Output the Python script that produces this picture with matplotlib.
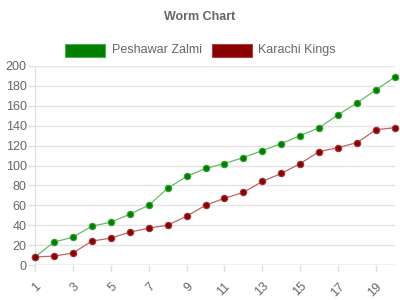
import matplotlib
matplotlib.use("Agg")
import matplotlib.pyplot as plt
from matplotlib.patches import Rectangle

plt.rcParams['font.family'] = ['Liberation Sans', 'DejaVu Sans']

overs = list(range(1, 21))
peshawar = [8, 23, 28, 39, 43, 51, 60, 77, 89, 97, 102, 108, 115, 122, 130, 138, 151, 163, 176, 189]
karachi = [8, 9, 12, 24, 27, 33, 37, 40, 49, 60, 67, 73, 84, 92, 102, 114, 118, 123, 136, 138]
series_names = ["Peshawar Zalmi", "Karachi Kings"]
title = "Worm Chart"

fig = plt.figure(figsize=(4, 3), dpi=100)
ax = fig.add_axes([35/400, 1-265/300, 360/400, 199/300])

ax.plot(overs, peshawar, color='#66bb66', lw=0.9, marker='o', ms=4.6,
        mfc='#008000', mec='#33a033', mew=0.8, zorder=3, clip_on=False)
ax.plot(overs, karachi, color='#bb6666', lw=0.9, marker='o', ms=4.6,
        mfc='#8b0000', mec='#a03333', mew=0.8, zorder=3, clip_on=False)

ax.set_xlim(1, 20)
ax.set_ylim(0, 200)
ax.set_yticks(range(0, 201, 20))
ax.set_xticks(range(1, 20, 2))
ax.set_xticklabels([str(v) for v in range(1, 20, 2)], rotation=45, ha='right',
                   rotation_mode='anchor')
ax.grid(axis='y', color='#e5e5e5', lw=1)
ax.set_axisbelow(True)
for s in ['top', 'right', 'bottom']:
    ax.spines[s].set_visible(False)
ax.spines['left'].set_color('#e0e0e0')
ax.tick_params(axis='y', colors='#666666', labelsize=9, length=5, width=1, pad=1)
ax.tick_params(axis='x', colors='#666666', labelsize=9, length=5, width=1, pad=6)
ax.tick_params(axis='both', color='#e0e0e0')
ax.axhline(0, color='#d5d5d5', lw=1, zorder=1)

fig.text(200/400, 1-17/300, title, ha='center', va='center', fontsize=9,
         fontweight='bold', color='#666666')

fig.patches.append(Rectangle((65/400, 1-56.5/300), 40/400, 13/300, transform=fig.transFigure,
                             facecolor='#008000', edgecolor='#4caf50', lw=0.8))
fig.text(112/400, 1-50/300, series_names[0], ha='left', va='center', fontsize=9, color='#666666')
fig.patches.append(Rectangle((212/400, 1-56.5/300), 40/400, 13/300, transform=fig.transFigure,
                             facecolor='#8b0000', edgecolor='#b04040', lw=0.8))
fig.text(258/400, 1-50/300, series_names[1], ha='left', va='center', fontsize=9, color='#666666')

fig.savefig("out.png", dpi=100)
